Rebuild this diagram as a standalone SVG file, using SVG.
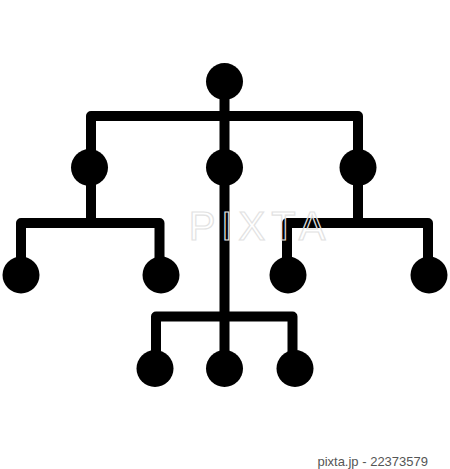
<svg xmlns="http://www.w3.org/2000/svg" width="450" height="469" viewBox="0 0 450 469">
<style>
.c{fill:#000}
.l{fill:none;stroke:#000;stroke-width:10;stroke-linejoin:round;stroke-linecap:butt}
.wm{font-family:"Liberation Sans",Arial,sans-serif}
</style>
<rect width="450" height="469" fill="#fff"/>
<g id="connectors">
<path class="l" d="M91,218 V116 H358 V218"/>
<path class="l" d="M224.5,81 V368"/>
<path class="l" d="M21,275 V223 H159.5 V275"/>
<path class="l" d="M287,275 V223 H428 V275"/>
<path class="l" d="M156,368 V316.5 H292.5 V368"/>
</g>
<g id="n-root"><circle class="c" cx="224.5" cy="81.5" r="18.5"/></g>
<g id="n-left"><circle class="c" cx="89.5" cy="167.5" r="18.5"/></g>
<g id="n-mid"><circle class="c" cx="224.5" cy="167.5" r="18.5"/></g>
<g id="n-right"><circle class="c" cx="358" cy="167.5" r="18.5"/></g>
<g id="n-ll"><circle class="c" cx="21" cy="275" r="18.5"/></g>
<g id="n-lr"><circle class="c" cx="161" cy="275" r="18.5"/></g>
<g id="n-rl"><circle class="c" cx="288" cy="275" r="18.5"/></g>
<g id="n-rr"><circle class="c" cx="429" cy="275" r="18.5"/></g>
<g id="n-bl"><circle class="c" cx="155" cy="368.5" r="18.5"/></g>
<g id="n-bm"><circle class="c" cx="224.5" cy="368.5" r="18.5"/></g>
<g id="n-br"><circle class="c" cx="295" cy="368.5" r="18.5"/></g>
<text class="wm" x="260" y="240" text-anchor="middle" font-size="40" fill="none" stroke="#e2e2e2" stroke-width="1.2" letter-spacing="6">PIXTA</text>
<text class="wm" x="428" y="466" text-anchor="end" font-size="13" fill="#555">pixta.jp - 22373579</text>
</svg>
